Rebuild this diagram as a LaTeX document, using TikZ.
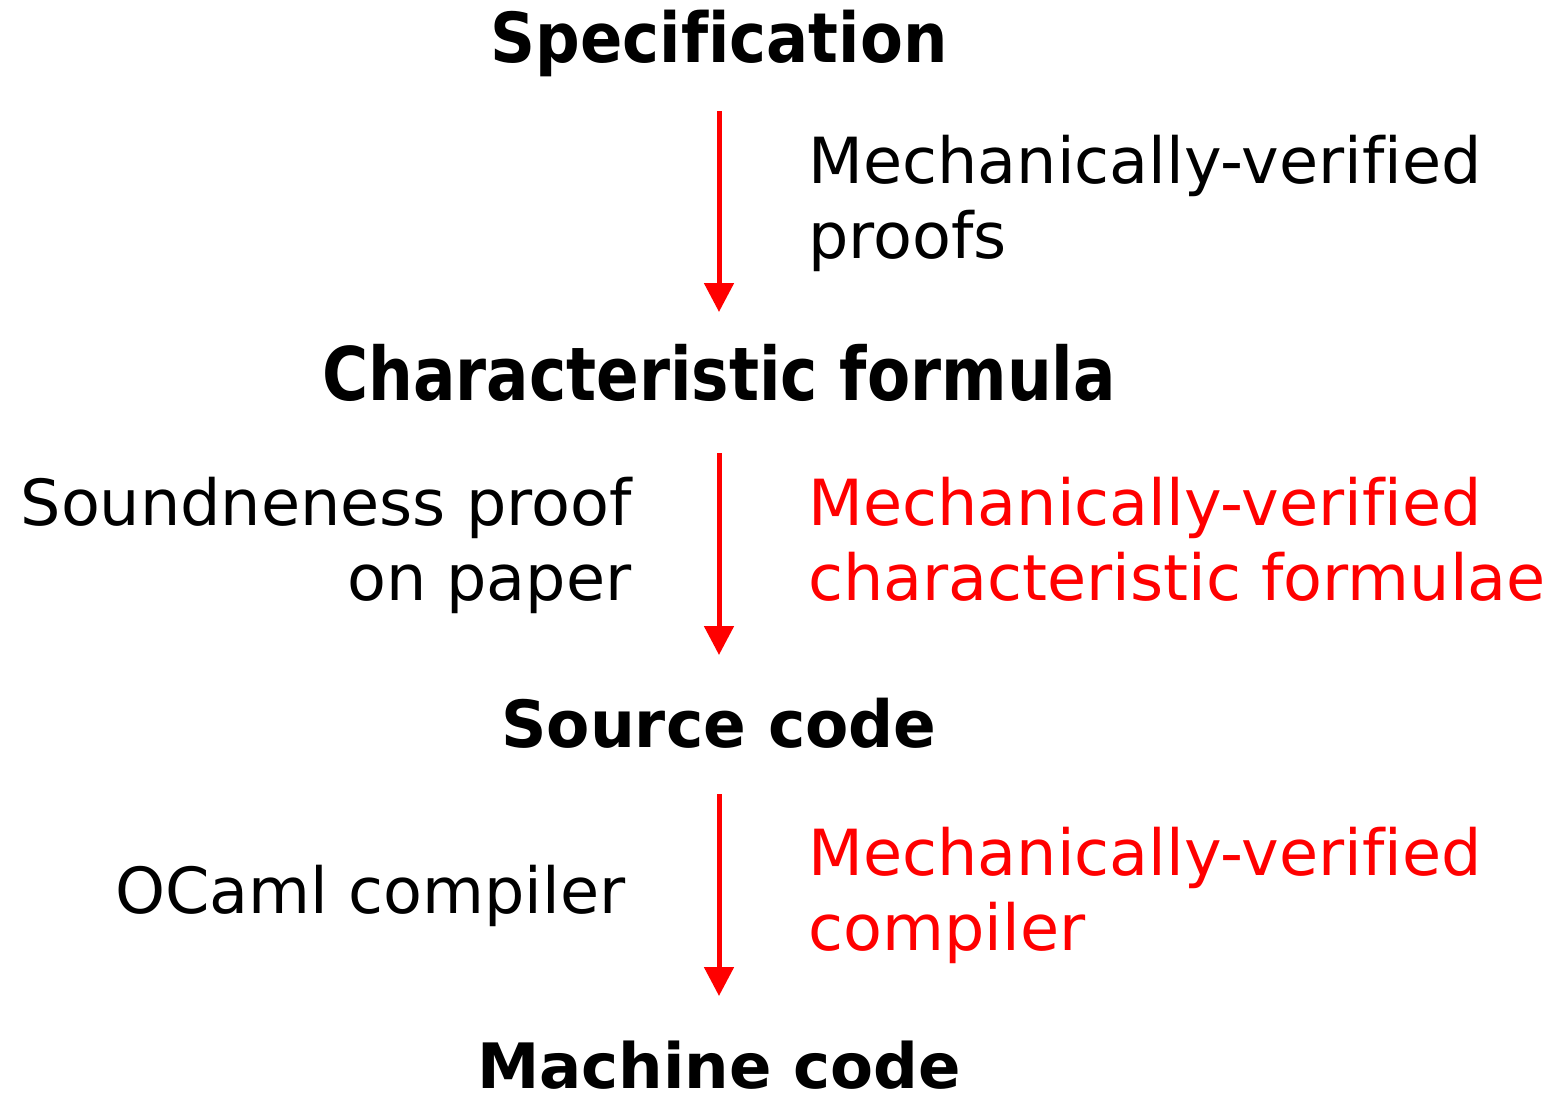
\documentclass[tikz,border=0pt]{standalone}
\usepackage{fontspec}
\setmainfont{DejaVu Sans}[Ligatures=NoCommon]
\usetikzlibrary{arrows.meta}
\definecolor{flowred}{RGB}{255,0,0}
\tikzset{
  heading/.style={anchor=base, inner sep=0pt, text height=0pt, text depth=0pt, font=\bfseries},
  note/.style={inner sep=0pt, font=\fontsize{31.8}{37.5}\selectfont},
  flow/.style={draw=flowred, line width=2.5pt, -{Triangle[width=14.5pt,length=14.5pt]}},
}
\begin{document}
\begin{tikzpicture}[x=0.5pt,y=-0.5pt]
  \useasboundingbox (0,0) rectangle (1553,1094);

  % levels of the verification chain
  \node[heading] (spec) at (719,62)
    {\fontsize{34.5}{40}\selectfont\scalebox{0.905}[1]{Specification}};
  \node[heading] (char) at (719,400)
    {\fontsize{37}{44}\selectfont\scalebox{0.85}[1]{Characteristic formula}};
  \node[heading] (src) at (719,747)
    {\fontsize{32.5}{40}\selectfont\scalebox{0.97}[1]{Source code}};
  \node[heading] (mach) at (719,1088)
    {\fontsize{31.3}{40}\selectfont Machine code};

  % steps between the levels
  \draw[flow, shorten <=24.5pt, shorten >=44pt] (spec.base) -- (char.base);
  \draw[flow, shorten <=26.5pt, shorten >=46pt] (char.base) -- (src.base);
  \draw[flow, shorten <=23.5pt, shorten >=46pt] (src.base) -- (mach.base);

  % justifications of each step (anchored on the last line)
  \node[note, anchor=base west, align=left] (p1) at (808,258)
    {Mechanically-verified\\proofs};
  \node[note, anchor=base east, align=right] (p2) at (632,600)
    {Soundneness proof\\on paper};
  \node[note, anchor=base west, align=left, text=flowred] (p2r) at (808,600)
    {Mechanically-verified\\characteristic formulae};
  \node[note, anchor=base east] (p3) at (626,913)
    {OCaml compiler};
  \node[note, anchor=base west, align=left, text=flowred] (p3r) at (808,950)
    {Mechanically-verified\\compiler};
\end{tikzpicture}
\end{document}
